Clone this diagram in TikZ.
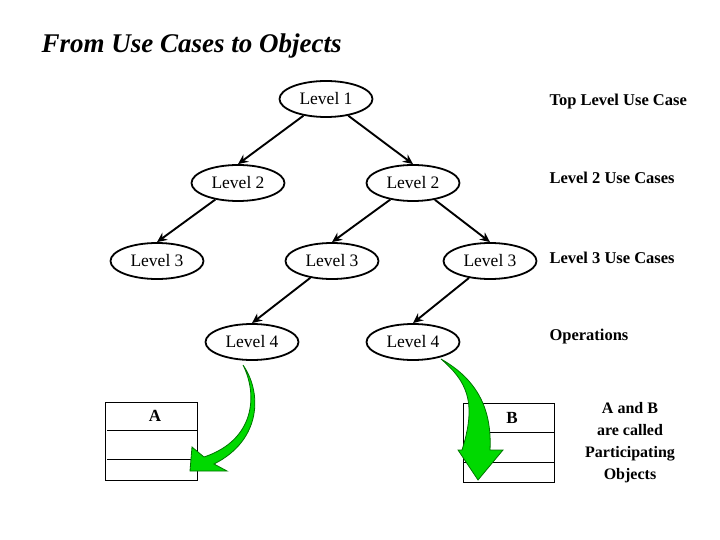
\documentclass[tikz,border=0pt]{standalone}
\usepackage{fontspec}
\setmainfont{Liberation Serif}
\usetikzlibrary{shapes.geometric,arrows.meta}
\tikzset{
  usecase/.style={draw,ellipse,line width=1.8pt,minimum width=93pt,minimum height=36pt,inner sep=0pt,font=\fontsize{17.5}{17.5}\selectfont},
  edge/.style={-{Stealth[length=10pt,width=9pt]},line width=1.9pt},
  note/.style={font=\fontsize{16.5}{19}\selectfont\bfseries,anchor=west},
  objbox/.style={draw,line width=0.6pt},
  bigarrow/.style={draw=green!45!black,fill=green!85!black,line width=0.8pt}
}
\begin{document}
\begin{tikzpicture}[x=1pt,y=-1pt]
    \useasboundingbox (0,0) rectangle (720,540);
    \node[font=\fontsize{27}{27}\selectfont\bfseries\itshape,anchor=west] (title) at (38,46) {From Use Cases to Objects};

    \node[usecase] (l1) at (326,99) {Level 1};
    \node[usecase] (l2a) at (238,183) {Level 2};
    \node[usecase] (l2b) at (413,183) {Level 2};
    \node[usecase] (l3a) at (157,261) {Level 3};
    \node[usecase] (l3b) at (332,261) {Level 3};
    \node[usecase] (l3c) at (490,261) {Level 3};
    \node[usecase] (l4a) at (252,342) {Level 4};
    \node[usecase] (l4b) at (413,342) {Level 4};

    \draw[edge] (l1) -- (l2a.north);
    \draw[edge] (l1) -- (l2b.north);
    \draw[edge] (l2a) -- (l3a.north);
    \draw[edge] (l2b) -- (l3b.north);
    \draw[edge] (l2b) -- (l3c.north);
    \draw[edge] (l3b) -- (l4a.north);
    \draw[edge] (l3c) -- (l4b.north);

    \node[note] (top) at (546,102) {Top Level Use Case};
    \node[note] (uc2) at (546,178) {Level 2 Use Cases};
    \node[note] (uc3) at (546,258) {Level 3 Use Cases};
    \node[note] (ops) at (546,337) {Operations};
    \node[note,anchor=center,align=center,font=\fontsize{16}{22}\selectfont\bfseries] (part) at (630,443) {A and B\\are called\\Participating\\Objects};

    % class A
    \draw[objbox] (105,402) rectangle (197,480);
    \draw[objbox] (107,430) -- (197,430);
    \draw[objbox] (107,459) -- (197,459);
    \node[font=\fontsize{17}{17}\selectfont\bfseries] (a) at (155,416) {A};
    % class B
    \draw[objbox] (463,403) rectangle (554,482);
    \draw[objbox] (466,432) -- (554,432);
    \draw[objbox] (463,462) -- (555,462);
    \node[font=\fontsize{17}{17}\selectfont\bfseries] (b) at (512,418) {B};

    % green arrows
    \draw[bigarrow] (243,365) .. controls (258,395) and (255,440) .. (204,457)
      -- (192,447) -- (190,471) -- (227,471) -- (214,464)
      .. controls (262,440) and (262,392) .. (243,365) -- cycle;
    \draw[bigarrow] (441,359) .. controls (465,380) and (478,400) .. (462,450)
      -- (458,450) -- (478,480) -- (503,450) -- (490,450)
      .. controls (492,410) and (478,380) .. (441,359) -- cycle;
\end{tikzpicture}
\end{document}
